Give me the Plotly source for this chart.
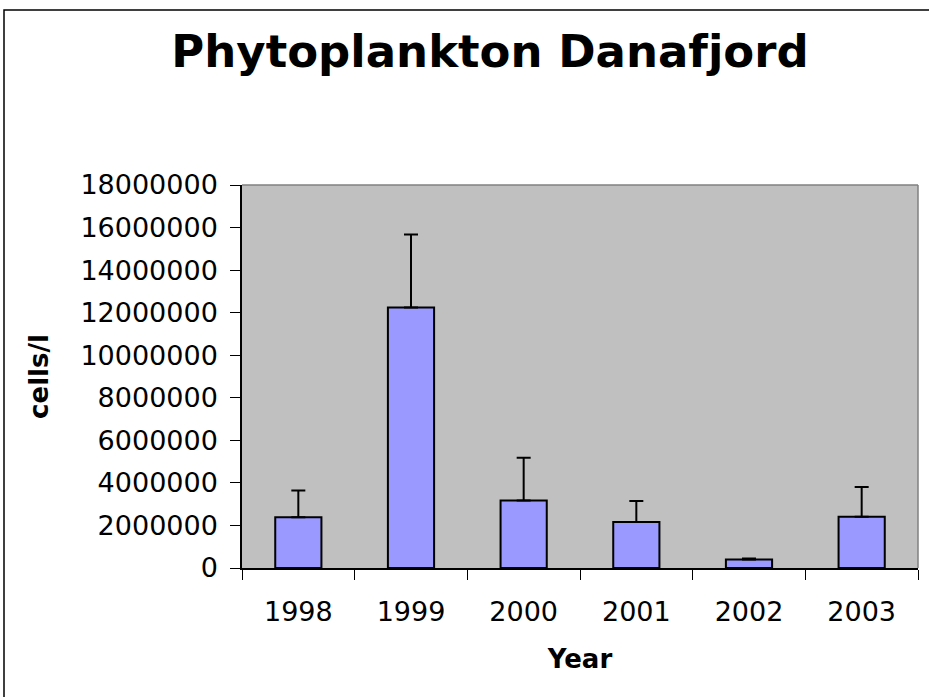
import plotly.graph_objects as go

years = ["1998", "1999", "2000", "2001", "2002", "2003"]
cells = [2380000, 12240000, 3170000, 2160000, 400000, 2410000]
err_plus = [1260000, 3430000, 2010000, 990000, 50000, 1400000]
y_ticks = [0, 2000000, 4000000, 6000000, 8000000, 10000000, 12000000, 14000000, 16000000, 18000000]

FONT = "DejaVu Sans"

fig = go.Figure()
fig.add_trace(go.Bar(
    x=years, y=cells,
    marker=dict(color="#9999ff", line=dict(color="black", width=2)),
    width=0.41,
    error_y=dict(type="data", symmetric=False, array=err_plus,
                 arrayminus=[0] * len(err_plus),
                 color="black", thickness=2, width=7),
))

W, H = 929, 697
L, R, T, B = 242, 11, 185, 129
pw, ph = W - L - R, H - T - B

fig.update_layout(
    width=W, height=H,
    margin=dict(l=L, r=R, t=T, b=B, autoexpand=False),
    paper_bgcolor="white",
    plot_bgcolor="#c0c0c0",
    showlegend=False,
    font=dict(family=FONT, color="black", size=27),
    title=dict(text="<b>Phytoplankton Danafjord</b>", x=490 / W, xanchor="center",
               y=1 - 51 / H, yanchor="middle", yref="container",
               font=dict(family=FONT, size=45, color="black")),
    xaxis=dict(
        type="category",
        showline=True, linecolor="black", linewidth=1.5,
        ticks="outside", ticklen=10, tickcolor="black", tickwidth=1,
        tickson="boundaries",
        showgrid=False,
        tickfont=dict(size=27),
        ticklabelstandoff=19,
        title=dict(text="<b>Year</b>", font=dict(size=26), standoff=24),
        automargin=False,
    ),
    yaxis=dict(
        range=[0, 18000000],
        tickvals=y_ticks, ticktext=[str(v) for v in y_ticks],
        showline=True, linecolor="black", linewidth=1.5,
        ticks="outside", ticklen=10, tickcolor="black", tickwidth=1,
        showgrid=False, zeroline=False,
        tickfont=dict(size=27),
        ticklabelstandoff=7,
        title=dict(text="<b>cells/l</b>", font=dict(size=26), standoff=24),
        automargin=False,
    ),
    shapes=[
        dict(type="line", xref="paper", yref="paper", x0=0, x1=1, y0=1, y1=1,
             line=dict(color="#808080", width=1.5)),
        dict(type="line", xref="paper", yref="paper", x0=1, x1=1, y0=0, y1=1,
             line=dict(color="#808080", width=1.5)),
        dict(type="rect", xref="paper", yref="paper",
             x0=(4 - L) / pw, x1=(W + 20 - L) / pw,
             y0=-(H + 20 - T - ph) / ph, y1=(H - B - 10) / ph,
             line=dict(color="black", width=1.5), fillcolor="rgba(0,0,0,0)"),
    ],
)

fig.write_html("out.html", config={"displayModeBar": False},
               post_script="document.body.style.margin='0';document.body.style.overflow='hidden';")
